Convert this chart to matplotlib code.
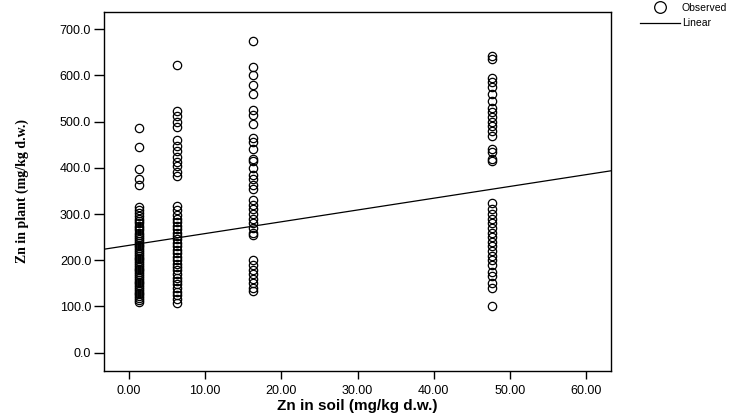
import numpy as np
import matplotlib.pyplot as plt

# Zn in soil: four sampling groups
soil_levels = [1.3, 6.35, 16.3, 47.6]

# Zn in plant
plant_g1 = [487, 445, 398, 375, 363, 315, 308, 302, 296, 290, 285, 280, 275, 270, 265,
            260, 255, 250, 246, 242, 238, 234, 230, 226, 222, 218, 214, 210, 206, 202,
            198, 194, 190, 186, 182, 178, 174, 170, 166, 162, 158, 154, 150, 146, 142,
            138, 134, 130, 126, 122, 118, 114, 110]
plant_g2 = [622, 522, 512, 500, 488, 460, 448, 437, 424, 412, 403, 392, 382,
            318, 308, 298, 290, 282, 275, 268, 260, 252, 245, 238, 230, 222, 215,
            208, 200, 193, 186, 178, 170, 162, 155, 148, 140, 132, 124, 116, 108]
plant_g3 = [675, 618, 600, 580, 560, 525, 515, 495, 465, 455, 440, 420, 415, 400,
            385, 375, 362, 355, 330, 320, 310, 300, 290, 280, 270, 260, 255,
            200, 190, 180, 170, 160, 150, 140, 133]
plant_g4 = [643, 635, 595, 585, 575, 560, 545, 530, 520, 510, 500, 490, 480, 470,
            440, 435, 420, 415, 325, 310, 300, 290, 280, 270, 260, 250, 240, 230,
            220, 210, 200, 190, 175, 165, 150, 140, 100]

# fitted linear model
intercept = 232.3
slope = 2.55

xs = np.concatenate([np.full(len(g), s) for s, g in
                     zip(soil_levels, [plant_g1, plant_g2, plant_g3, plant_g4])])
ys = np.concatenate([plant_g1, plant_g2, plant_g3, plant_g4])

fig = plt.figure(figsize=(7.41, 4.18), dpi=100)
ax = fig.add_axes([103.7/741, 1-370.7/418, (610.7-103.7)/741, (370.7-11.7)/418])

ax.plot(xs, ys, 'o', mfc='none', mec='black', ms=6, mew=0.9, label='Observed')
xlim = (-3.32, 63.24)
xl = np.array(xlim)
ax.plot(xl, intercept + slope*xl, color='black', lw=0.9, label='Linear')

ax.set_xlim(xlim)
ax.set_ylim(-39, 738)
ax.set_xticks(np.arange(0, 61, 10))
ax.set_yticks(np.arange(0, 701, 100))
ax.set_xticklabels(['%.2f' % v for v in np.arange(0, 61, 10)])
ax.set_yticklabels(['%.1f' % v for v in np.arange(0, 701, 100)])
ax.tick_params(direction='out', width=1, labelsize=9, colors='black')
ax.tick_params(axis='x', length=6, pad=4)
ax.tick_params(axis='y', length=7, pad=2)
for lab in ax.get_xticklabels() + ax.get_yticklabels():
    lab.set_fontfamily('Liberation Sans')
for sp in ax.spines.values():
    sp.set_linewidth(1)

ax.set_xlabel('Zn in soil (mg/kg d.w.)', fontsize=11, fontweight='bold',
              family='Liberation Sans', labelpad=2)
ax.set_ylabel('Zn in plant (mg/kg d.w.)', fontsize=10, fontweight='bold',
              family='Liberation Serif', labelpad=22)

leg = fig.legend(loc='upper left', bbox_to_anchor=(640/741, 1-3/418), frameon=False,
                 prop={'family': 'Liberation Sans', 'size': 7.5}, handlelength=3.8,
                 handletextpad=0.2, labelspacing=0.5, borderaxespad=0.0, borderpad=0.0,
                 markerscale=1.4)

fig.savefig('out.png', dpi=100)
